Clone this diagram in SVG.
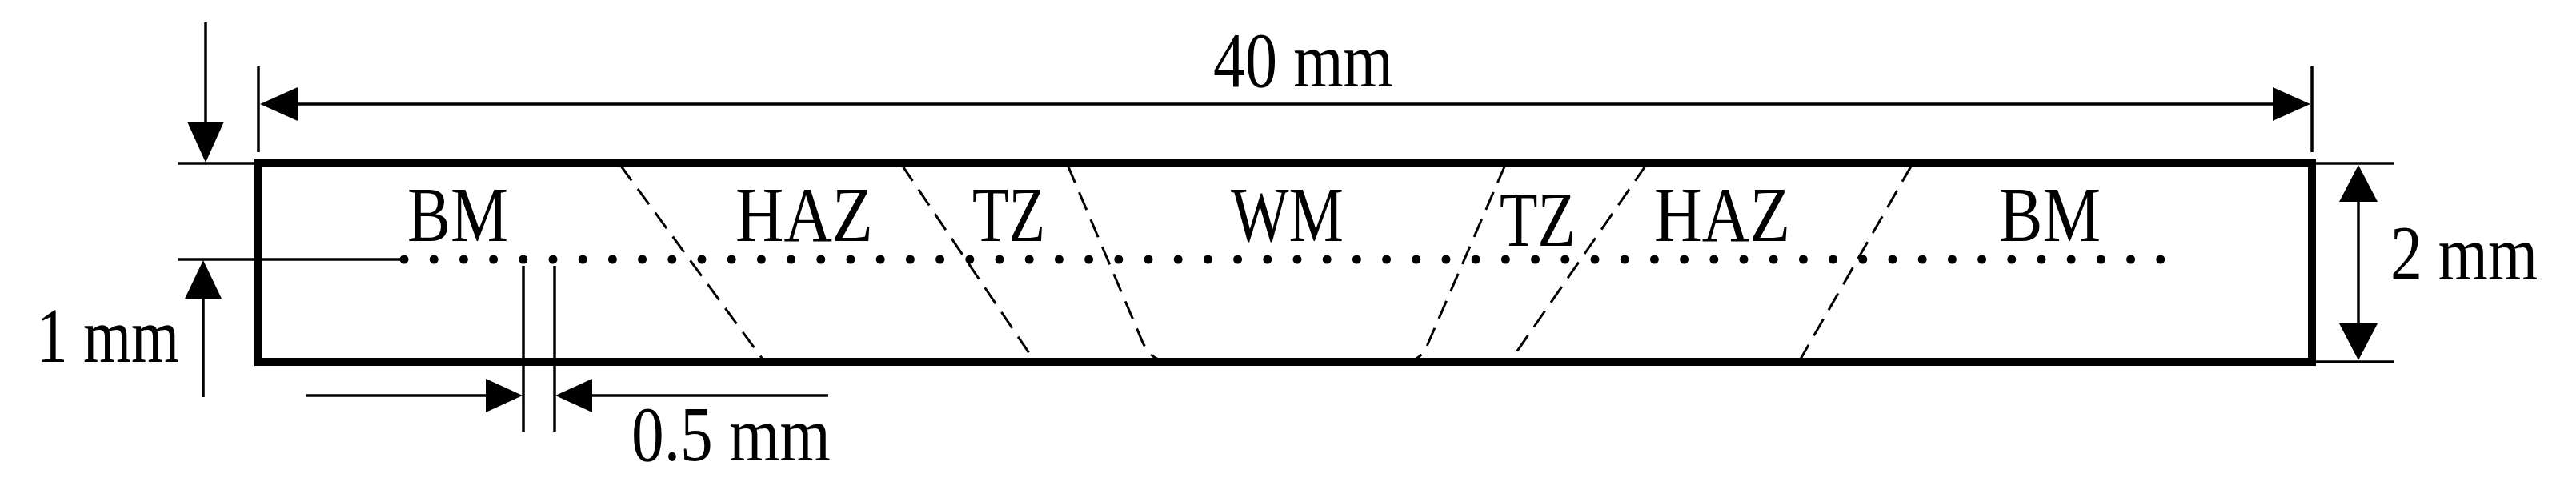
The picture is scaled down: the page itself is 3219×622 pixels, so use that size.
<svg xmlns="http://www.w3.org/2000/svg" width="3219" height="622" viewBox="0 0 3219 622">
<style>
.t{font-family:"Liberation Serif","Times New Roman",serif;font-size:98px;fill:#000}
.thin{stroke:#000;stroke-width:3.5;fill:none}
.dash{stroke:#000;stroke-width:3;fill:none;stroke-dasharray:24 13}
.ah{fill:#000}
</style>
<rect width="3219" height="622" fill="#fff"/>
<g id="specimen">
<rect x="323" y="204" width="2566" height="248" fill="none" stroke="#000" stroke-width="10"/>
</g>
<g id="zones">
<path class="dash" d="M775,206 L954,450"/>
<path class="dash" d="M1127,206 L1292,450"/>
<path class="dash" d="M1334,206 L1428,428 Q1438,448 1452,450"/>
<path class="dash" d="M1881,206 L1785,428 Q1777,448 1764,450"/>
<path class="dash" d="M2057,206 L1888,450"/>
<path class="dash" d="M2389,206 L2249,450"/>
</g>
<g id="points">
<line x1="505" y1="324" x2="2704" y2="324" stroke="#000" stroke-width="11" stroke-linecap="round" stroke-dasharray="0 37.2"/>
</g>
<g id="labels">
<text class="t" x="509" y="301" textLength="126" lengthAdjust="spacingAndGlyphs">BM</text>
<text class="t" x="919" y="301" textLength="172" lengthAdjust="spacingAndGlyphs">HAZ</text>
<text class="t" x="1215" y="301" textLength="91" lengthAdjust="spacingAndGlyphs">TZ</text>
<text class="t" x="1538" y="301" textLength="141" lengthAdjust="spacingAndGlyphs">WM</text>
<text class="t" x="1874" y="307" textLength="95" lengthAdjust="spacingAndGlyphs">TZ</text>
<text class="t" x="2067" y="301" textLength="170" lengthAdjust="spacingAndGlyphs">HAZ</text>
<text class="t" x="2498" y="301" textLength="127" lengthAdjust="spacingAndGlyphs">BM</text>
</g>
<g id="connectors">
<line class="thin" x1="323" y1="83" x2="323" y2="190"/>
<line class="thin" x1="2889" y1="83" x2="2889" y2="190"/>
<line class="thin" x1="360" y1="130" x2="2850" y2="130"/>
<polygon class="ah" points="325,130 372,109 372,151"/>
<polygon class="ah" points="2887,130 2840,109 2840,151"/>
<line class="thin" x1="2889" y1="204" x2="2992" y2="204"/>
<line class="thin" x1="2889" y1="452" x2="2992" y2="452"/>
<line class="thin" x1="2947" y1="240" x2="2947" y2="420"/>
<polygon class="ah" points="2947,206 2923,252 2971,252"/>
<polygon class="ah" points="2947,450 2923,404 2971,404"/>
<line class="thin" x1="223" y1="204" x2="323" y2="204"/>
<line class="thin" x1="223" y1="324" x2="505" y2="324"/>
<line class="thin" x1="257" y1="28" x2="257" y2="160"/>
<polygon class="ah" points="257,203 234,152 280,152"/>
<line class="thin" x1="254" y1="360" x2="254" y2="496"/>
<polygon class="ah" points="254,325 231,373 277,373"/>
<line class="thin" x1="654" y1="332" x2="654" y2="539"/>
<line class="thin" x1="693" y1="332" x2="693" y2="539"/>
<line class="thin" x1="382" y1="494" x2="620" y2="494"/>
<polygon class="ah" points="653,494 607,473 607,515"/>
<line class="thin" x1="730" y1="494" x2="1035" y2="494"/>
<polygon class="ah" points="694,494 740,473 740,515"/>
</g>
<g id="dimtext">
<text class="t" x="1516" y="108" textLength="225" lengthAdjust="spacingAndGlyphs">40 mm</text>
<text class="t" x="2987" y="349" textLength="184" lengthAdjust="spacingAndGlyphs">2 mm</text>
<text class="t" x="46" y="452" textLength="178" lengthAdjust="spacingAndGlyphs">1 mm</text>
<text class="t" x="789" y="575" textLength="249" lengthAdjust="spacingAndGlyphs">0.5 mm</text>
</g>
</svg>
